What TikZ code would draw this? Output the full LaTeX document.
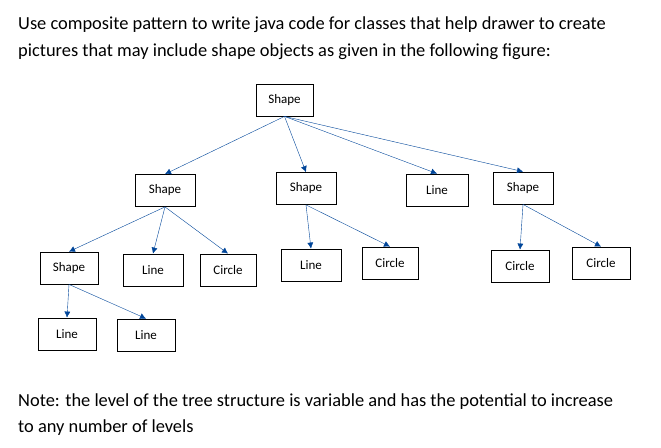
\documentclass[tikz,border=0pt]{standalone}
\usepackage{fontspec}
\usetikzlibrary{arrows.meta}
\setmainfont{Carlito}
\begin{document}
\begin{tikzpicture}[x=1pt,y=-1pt,
  box/.style={draw,thick,minimum width=#1,minimum height=32pt,inner sep=0pt,font=\fontsize{13}{15}\selectfont},
  box/.default=58pt,
  arr/.style={draw=blue!55!cyan!60!black,-{Latex[length=6pt,width=6pt]}},
  txt/.style={anchor=west,inner sep=0pt,font=\fontsize{18.4}{22}\selectfont}]
\useasboundingbox (0,0) rectangle (661,447);
\node[txt] (t1) at (18,25) {Use composite pattern to write java code for classes that help drawer to create};
\node[txt] (t2) at (18,52) {pictures that may include shape objects as given in the following figure:};
\node[txt] (t3) at (18,402) {Note: the level of the tree structure is variable and has the potential to increase};
\node[txt] (t4) at (18,428) {to any number of levels};
\node[box=57pt] (r) at (284.5,100) {Shape};
\node[box=60pt] (a) at (165,190.5) {Shape};
\node[box=60pt] (b) at (306,188.5) {Shape};
\node[box=62pt] (c) at (437,190) {Line};
\node[box=60pt] (d) at (523,188) {Shape};
\node[box=58pt] (a1) at (69,268) {Shape};
\node[box=60pt] (a2) at (153,270) {Line};
\node[box=56pt] (a3) at (228,270) {Circle};
\node[box=60pt] (b1) at (311,265) {Line};
\node[box=56pt] (b2) at (390,263) {Circle};
\node[box=58pt] (d1) at (520,266) {Circle};
\node[box=58pt] (d2) at (601,263) {Circle};
\node[box=58pt] (e1) at (67,334) {Line};
\node[box=58pt] (e2) at (146,335) {Line};
\draw[arr] (r.south) -- (a.north);
\draw[arr] (r.south) -- (b.north);
\draw[arr] (r.south) -- (c.north);
\draw[arr] (r.south) -- (d.north);
\draw[arr] (a.south) -- (a1.north);
\draw[arr] (a.south) -- (a2.north);
\draw[arr] (a.south) -- (a3.north);
\draw[arr] (b.south) -- (b1.north);
\draw[arr] (b.south) -- (b2.north);
\draw[arr] (d.south) -- (d1.north);
\draw[arr] (d.south) -- (d2.north);
\draw[arr] (a1.south) -- (e1.north);
\draw[arr] (a1.south) -- (e2.north);
\end{tikzpicture}
\end{document}
